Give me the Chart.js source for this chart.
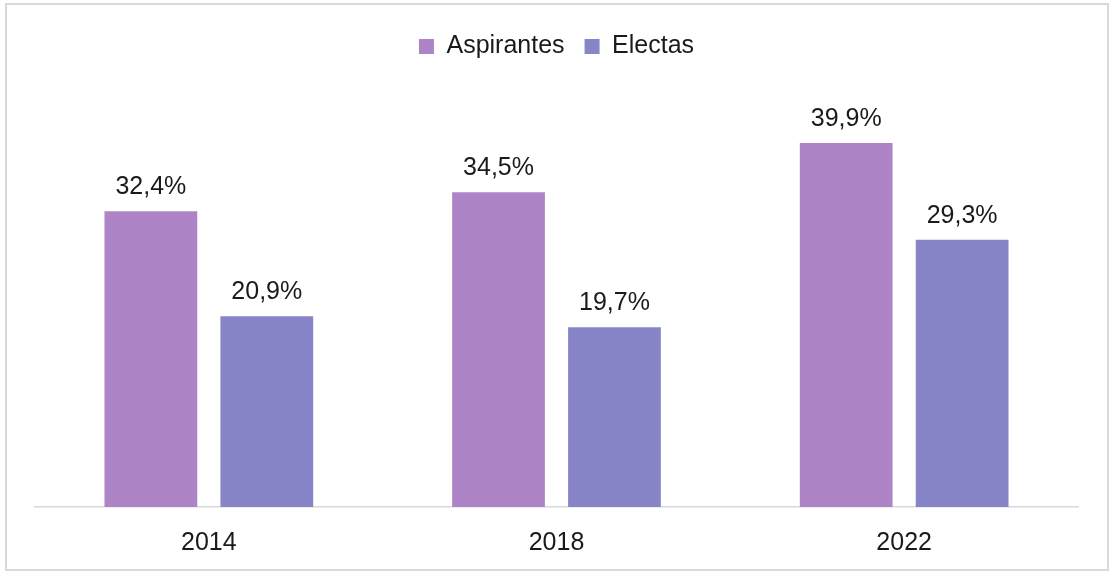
<!DOCTYPE html>
<html lang="es">
<head>
    <meta charset="UTF-8">
    <title>Aspirantes y electas</title>
    <script src="https://cdn.jsdelivr.net/npm/chart.js"></script>
    <style>
        body { margin: 0; background: #fff; overflow: hidden; }
        #frame {
            position: absolute; left: 5px; top: 3px;
            width: 1100px; height: 564px;
            border: 2px solid #d9d9d9;
        }
        #wrap { position: absolute; left: 0; top: 0; width: 1112px; height: 571px; }
    </style>
</head>
<body>
    <div id="frame"></div>
    <div id="wrap"><canvas id="chart"></canvas></div>

    <script>
        const years = ['2014', '2018', '2022'];
        const aspirantes = [32.4, 34.5, 39.9];
        const electas = [20.9, 19.7, 29.3];

        const fontFamily = '"Liberation Sans", Arial, sans-serif';
        const textColor = '#1a1a1a';

        // Etiquetas de valor encima de cada barra
        const valueLabels = {
            id: 'valueLabels',
            afterDatasetsDraw(chart) {
                const ctx = chart.ctx;
                ctx.save();
                ctx.font = '25px ' + fontFamily;
                ctx.fillStyle = textColor;
                ctx.textAlign = 'center';
                ctx.textBaseline = 'alphabetic';
                chart.data.datasets.forEach((ds, i) => {
                    chart.getDatasetMeta(i).data.forEach((bar, j) => {
                        const txt = ds.data[j].toFixed(1).replace('.', ',') + '%';
                        ctx.fillText(txt, bar.x, bar.y - 17);
                    });
                });
                ctx.restore();
            }
        };

        new Chart(document.getElementById('chart'), {
            type: 'bar',
            data: {
                labels: years,
                datasets: [{
                    label: 'Aspirantes',
                    data: aspirantes,
                    backgroundColor: '#ad84c6'
                }, {
                    label: 'Electas',
                    data: electas,
                    backgroundColor: '#8784c7'
                }]
            },
            options: {
                responsive: true,
                maintainAspectRatio: false,
                animation: false,
                categoryPercentage: 0.667,
                barPercentage: 0.8,
                layout: { padding: { left: 35, right: 34, top: 14, bottom: 0 } },
                plugins: {
                    legend: {
                        position: 'top',
                        labels: {
                            font: { family: fontFamily, size: 25 },
                            color: textColor,
                            boxWidth: 15,
                            boxHeight: 15,
                            padding: 20
                        }
                    },
                    tooltip: { enabled: false }
                },
                scales: {
                    x: {
                        grid: { display: false },
                        border: { color: '#d9d9d9', width: 1.5 },
                        ticks: {
                            font: { family: fontFamily, size: 25 },
                            color: textColor,
                            padding: 13
                        }
                    },
                    y: {
                        display: false,
                        min: 0,
                        max: 48
                    }
                }
            },
            plugins: [valueLabels]
        });
    </script>
</body>
</html>
